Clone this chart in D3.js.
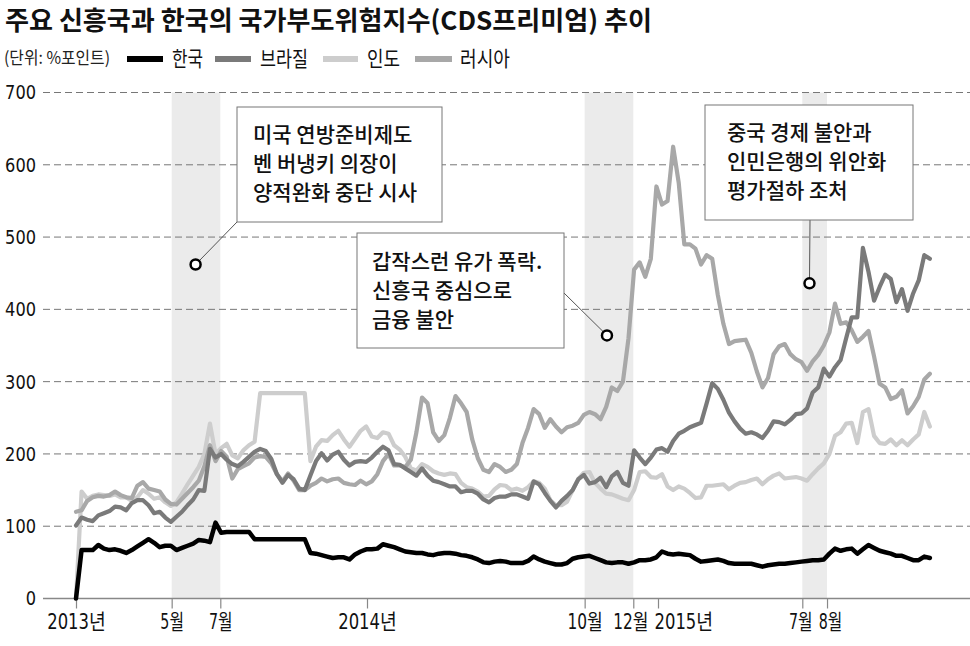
<!DOCTYPE html>
<html><head><meta charset="utf-8">
<script src="https://cdn.jsdelivr.net/npm/d3@7"></script>
<style>
body{margin:0;background:#fff;}
svg{display:block;}
.cjk{font-family:"Noto Sans CJK KR","Noto Sans",sans-serif;}
.num{font-family:"Liberation Sans Narrow","DejaVu Sans Condensed","Noto Sans CJK KR",sans-serif;}
</style></head><body>
<svg id="c" width="970" height="646"></svg>
<script>
// ---- DATA (weekly CDS premium, %point) ----
const startDate = "2013-01-01";
const seriesNames = ["한국","브라질","인도","러시아"];
const korea = [
0,67,67,67,74,69,67,68,66,63,
67,72,77,82,77,71,73,73,67,70,
73,76,81,80,78,105,91,92,92,92,
92,92,82,82,82,82,82,82,82,82,
82,82,63,62,60,58,56,57,57,54,
61,65,68,68,69,75,73,71,68,65,
64,63,63,61,60,62,63,63,62,60,
59,57,54,50,49,51,52,51,49,49,
49,52,58,54,51,49,47,47,49,55,
57,58,59,56,53,50,49,50,50,48,
50,53,53,54,57,65,62,61,62,61,
60,55,51,52,53,54,52,49,48,48,
48,48,46,44,46,47,48,48,49,50,
51,52,53,53,54,62,69,66,68,69,
62,68,74,70,66,64,62,59,59,56,
53,53,58,56];
const brazil = [
101,112,109,107,115,118,121,127,126,122,
132,136,136,129,118,120,112,106,113,120,
129,137,150,149,207,195,200,192,186,183,
189,196,203,207,204,193,172,160,171,165,
152,150,170,190,201,191,199,203,192,184,
189,190,189,195,203,210,205,186,185,180,
175,170,180,170,163,161,158,155,155,147,
149,149,145,137,133,139,141,141,144,144,
141,138,162,158,146,135,126,135,142,150,
165,171,159,161,167,154,169,175,160,156,
205,195,186,195,206,208,203,218,228,232,
237,240,243,270,298,290,275,257,245,235,
228,230,227,222,232,245,244,241,247,255,
256,263,285,292,318,307,320,330,360,389,
389,485,452,412,431,448,442,410,428,398,
422,440,475,470];
const india = [
0,148,138,142,144,143,142,144,140,140,
135,140,150,145,138,140,133,128,133,145,
158,170,182,200,242,200,208,214,198,194,
205,212,217,284,284,284,284,284,284,284,
284,284,190,210,219,218,226,232,220,210,
221,232,238,224,222,230,228,212,206,196,
180,177,186,182,176,173,171,173,172,160,
154,152,148,141,142,151,157,156,150,152,
149,154,162,160,152,136,129,129,134,150,
165,174,175,160,152,145,144,141,138,136,
150,175,176,168,167,172,155,150,155,152,
146,139,140,156,156,157,158,151,156,160,
161,164,166,158,165,170,173,166,167,168,
166,163,172,180,187,200,225,230,242,243,
215,258,262,225,215,214,220,212,219,212,
220,227,258,238];
const russia = [
120,122,135,140,142,141,143,148,143,140,
139,156,161,152,150,148,137,131,130,138,
146,154,163,183,212,190,204,196,166,179,
183,187,195,197,196,187,172,162,173,163,
150,150,156,160,166,162,165,166,160,158,
157,163,158,162,172,190,200,184,184,182,
192,230,278,270,230,218,226,250,280,270,
258,220,194,178,175,186,182,175,178,186,
215,236,262,255,236,248,238,230,237,239,
243,254,258,255,248,265,292,287,300,360,
455,465,445,470,570,545,550,625,575,490,
490,484,462,475,470,420,380,352,356,357,
358,340,314,292,305,338,349,352,338,331,
327,315,328,337,350,368,408,380,382,371,
355,362,370,335,297,292,276,279,288,256,
266,279,303,311];
const yTicks = [0,100,200,300,400,500,600,700];
const xTickDates = ["2013-01-01","2013-05-01","2013-07-01","2014-01-01","2014-10-01","2014-12-01","2015-01-01","2015-07-01","2015-08-01"];
const xTickLabels = ["2013년","5월","7월","2014년","10월","12월","2015년","7월","8월"];
const bands = [["2013-05-01","2013-07-01"],["2014-10-01","2014-12-01"],["2015-07-01","2015-08-01"]];
const notes = [
  {lines:["미국 연방준비제도","벤 버냉키 의장이","양적완화 중단 시사"], date:"2013-05-31", value:462},
  {lines:["갑작스런 유가 폭락.","신흥국 중심으로","금융 불안"], date:"2014-10-29", value:364},
  {lines:["중국 경제 불안과","인민은행의 위안화","평가절하 조처"], date:"2015-07-10", value:436}
];

// ---- LAYOUT ----
const svg = d3.select("#c");
const parse = d3.timeParse("%Y-%m-%d");
const t0 = parse(startDate);
const dates = korea.map((_, i) => d3.timeDay.offset(t0, 7 * i));
const x = d3.scaleTime().domain([parse("2013-01-01"), parse("2016-01-01")]).range([76, 76 + 1095 * 582 / 730]);
const y = d3.scaleLinear().domain([0, 700]).range([598.5, 92.5]);

// bands
svg.append("g").selectAll("rect").data(bands).join("rect")
  .attr("x", d => x(parse(d[0]))).attr("width", d => x(parse(d[1])) - x(parse(d[0])))
  .attr("y", y(700)).attr("height", y(0) - y(700)).attr("fill", "#ebebeb");

// gridlines
svg.append("g").selectAll("line").data(yTicks.filter(v => v > 0)).join("line")
  .attr("x1", 43).attr("x2", 970).attr("y1", d => y(d)).attr("y2", d => y(d))
  .attr("stroke", "#777").attr("stroke-width", 1).attr("stroke-dasharray", "7,4");

// x axis
const FS = 21;
const xa = svg.append("g").attr("transform", `translate(0,${y(0)})`)
  .call(d3.axisBottom(x).tickValues(xTickDates.map(parse)).tickSize(10).tickPadding(6)
    .tickFormat((d, i) => xTickLabels[i]));
xa.select(".domain").remove();
xa.selectAll(".tick line").attr("stroke", "#888").attr("stroke-width", 1.2);
const labelShift = {5: -3, 6: -4, 7: -2, 8: 3};
xa.selectAll(".tick text").attr("class", "num").attr("font-size", FS).attr("fill", "#111")
  .attr("font-family", null)
  .each(function(d, i){
    const s = d3.select(this);
    const L = this.getComputedTextLength();
    const k = (xTickLabels[i].match(/[\uac00-\ud7a3]/g) || []).length;
    s.attr("textLength", (L - k * (FS - 14)) * 0.97).attr("lengthAdjust", "spacingAndGlyphs");
    if (i === 6) s.attr("text-anchor", "start");
    if (labelShift[i]) s.attr("dx", labelShift[i]);
  });
svg.append("line").attr("x1", 43).attr("x2", 970).attr("y1", y(0)).attr("y2", y(0))
  .attr("stroke", "#888").attr("stroke-width", 1.5);

// y axis
const ya = svg.append("g").attr("transform", "translate(36,0)")
  .call(d3.axisLeft(y).tickValues(yTicks).tickSize(0).tickPadding(0));
ya.select(".domain").remove();
ya.selectAll(".tick text").attr("class", "num").attr("font-size", 20).attr("fill", "#111").attr("font-family", null)
  .each(function(){ const L = this.getComputedTextLength(); d3.select(this).attr("textLength", L * 0.9).attr("lengthAdjust", "spacingAndGlyphs"); });

// lines
const colors = {"한국":"#000","브라질":"#7a7a7a","인도":"#cdcdcd","러시아":"#a8a8a8"};
const seriesData = {"한국":korea,"브라질":brazil,"인도":india,"러시아":russia};
const line = d3.line().x((d, i) => x(dates[i])).y(d => y(d));
["인도","러시아","브라질","한국"].forEach(n => {
  svg.append("path").datum(seriesData[n]).attr("d", line).attr("fill", "none")
    .attr("stroke", colors[n]).attr("stroke-width", n === "한국" ? 4.5 : 4.2)
    .attr("stroke-linejoin", "round").attr("stroke-linecap", "round");
});

// title & legend
svg.append("text").attr("class", "cjk").attr("x", 5).attr("y", 30).attr("font-size", 26)
  .attr("font-weight", "bold").attr("fill", "#111").attr("textLength", 647).attr("lengthAdjust", "spacingAndGlyphs")
  .text("주요 신흥국과 한국의 국가부도위험지수(CDS프리미엄) 추이");
svg.append("text").attr("class", "cjk").attr("x", 4).attr("y", 64).attr("font-size", 17)
  .attr("fill", "#222").attr("textLength", 106).attr("lengthAdjust", "spacingAndGlyphs").text("(단위: %포인트)");
const legX = [[127,163,172,31],[215,251,260,48],[323,358,367,33],[415,452,460,50]];
seriesNames.forEach((n, i) => {
  const p = legX[i];
  svg.append("line").attr("x1", p[0]).attr("x2", p[1]).attr("y1", 59).attr("y2", 59)
    .attr("stroke", colors[n]).attr("stroke-width", 6);
  svg.append("text").attr("class", "cjk").attr("x", p[2]).attr("y", 66).attr("font-size", 21)
    .attr("fill", "#111").attr("textLength", p[3]).attr("lengthAdjust", "spacingAndGlyphs").text(n);
});

// annotations
const boxes = [
  {x0:237, y0:107, x1:442, y1:222, tx:253, ty:[142,171,200], from:[237,222]},
  {x0:357, y0:233, x1:564, y1:348, tx:372, ty:[269,298,327], from:[564,293]},
  {x0:705, y0:105, x1:913, y1:220, tx:727, ty:[140,169,198], from:[810,220]}
];
notes.forEach((nt, i) => {
  const b = boxes[i];
  const cx = x(parse(nt.date)), cy = y(nt.value);
  svg.append("line").attr("x1", b.from[0]).attr("y1", b.from[1]).attr("x2", cx).attr("y2", cy)
    .attr("stroke", "#555").attr("stroke-width", 1);
  svg.append("rect").attr("x", b.x0).attr("y", b.y0).attr("width", b.x1 - b.x0).attr("height", b.y1 - b.y0)
    .attr("fill", "#fff").attr("stroke", "#777").attr("stroke-width", 1);
  nt.lines.forEach((t, j) => {
    svg.append("text").attr("class", "cjk").attr("x", b.tx).attr("y", b.ty[j]).attr("font-size", 21)
      .attr("font-weight", 500).attr("fill", "#111").text(t);
  });
  svg.append("circle").attr("cx", cx).attr("cy", cy).attr("r", 5)
    .attr("fill", "#fff").attr("stroke", "#000").attr("stroke-width", 2.5);
});
</script>
</body></html>
